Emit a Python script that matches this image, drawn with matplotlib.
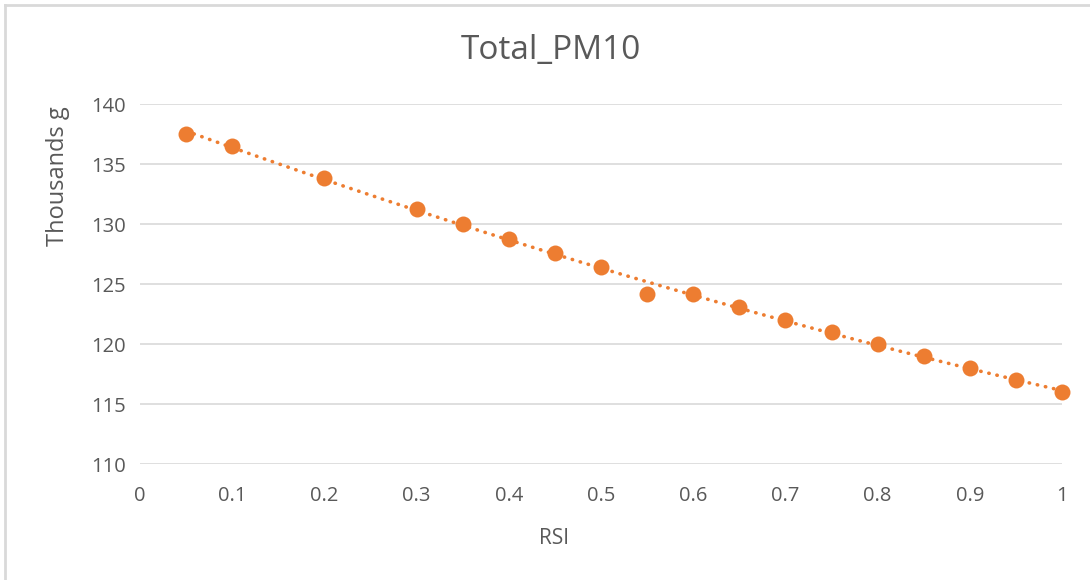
import numpy as np
import matplotlib
matplotlib.use("Agg")
import matplotlib.pyplot as plt
from matplotlib.lines import Line2D

# RSI values and total PM10 emissions (thousands of grams)
rsi = [0.05, 0.1, 0.2, 0.3, 0.35, 0.4, 0.45, 0.5, 0.55, 0.6,
       0.65, 0.7, 0.75, 0.8, 0.85, 0.9, 0.95, 1.0]
pm10 = [137.5, 136.5, 133.85, 131.25, 130.0, 128.75, 127.6, 126.4, 124.15, 124.15,
        123.1, 122.0, 121.0, 120.0, 119.0, 118.0, 117.0, 116.0]

x_ticks = [0, 0.1, 0.2, 0.3, 0.4, 0.5, 0.6, 0.7, 0.8, 0.9, 1]
x_tick_labels = ["0", "0.1", "0.2", "0.3", "0.4", "0.5", "0.6", "0.7", "0.8", "0.9", "1"]
y_ticks = [110, 115, 120, 125, 130, 135, 140]

orange = "#ED7D31"
text_grey = "#595959"
grid_grey = "#D9D9D9"

plt.rcParams["font.family"] = ["Open Sans", "DejaVu Sans"]

fig = plt.figure(figsize=(10.9, 5.8), dpi=100)
ax = fig.add_axes([140 / 1090, 1 - 464 / 580, (1062 - 140) / 1090, (464 - 104) / 580])

# polynomial trendline fitted through the points
coef = np.polyfit(rsi, pm10, 2)
xs = np.linspace(min(rsi), max(rsi), 200)
ax.plot(xs, np.polyval(coef, xs), color=orange, lw=2.6, linestyle=(0, (0.1, 2.2)),
        dash_capstyle="round", zorder=2)

ax.plot(rsi, pm10, "o", color=orange, markersize=11.5, markeredgewidth=0, zorder=3,
        clip_on=False)

ax.set_xlim(0, 1)
ax.set_ylim(110, 140)
ax.set_xticks(x_ticks)
ax.set_xticklabels(x_tick_labels)
ax.set_yticks(y_ticks)
ax.grid(axis="y", color=grid_grey, lw=1.2)
ax.set_axisbelow(True)
for s in ax.spines.values():
    s.set_visible(False)
ax.tick_params(length=0, labelsize=14.5, labelcolor=text_grey)
ax.tick_params(axis="x", pad=16)
ax.tick_params(axis="y", pad=10)

fig.text(554 / 1090, 1 - 538 / 580, "RSI", ha="center", va="center",
         fontsize=15, color=text_grey)
fig.text(58 / 1090, 1 - 176 / 580, "Thousands g", ha="center", va="center",
         rotation=90, fontsize=17, color=text_grey)
fig.text(551 / 1090, 1 - 50 / 580, "Total_PM10", ha="center", va="center",
         fontsize=24, color=text_grey)

# chart frame (top and left edges visible)
fig.add_artist(Line2D([5 / 1090, 5 / 1090], [0, 1 - 5 / 580], transform=fig.transFigure,
                      color=grid_grey, lw=2))
fig.add_artist(Line2D([5 / 1090, 1], [1 - 5 / 580, 1 - 5 / 580], transform=fig.transFigure,
                      color=grid_grey, lw=2))

fig.savefig("out.png", dpi=100)
